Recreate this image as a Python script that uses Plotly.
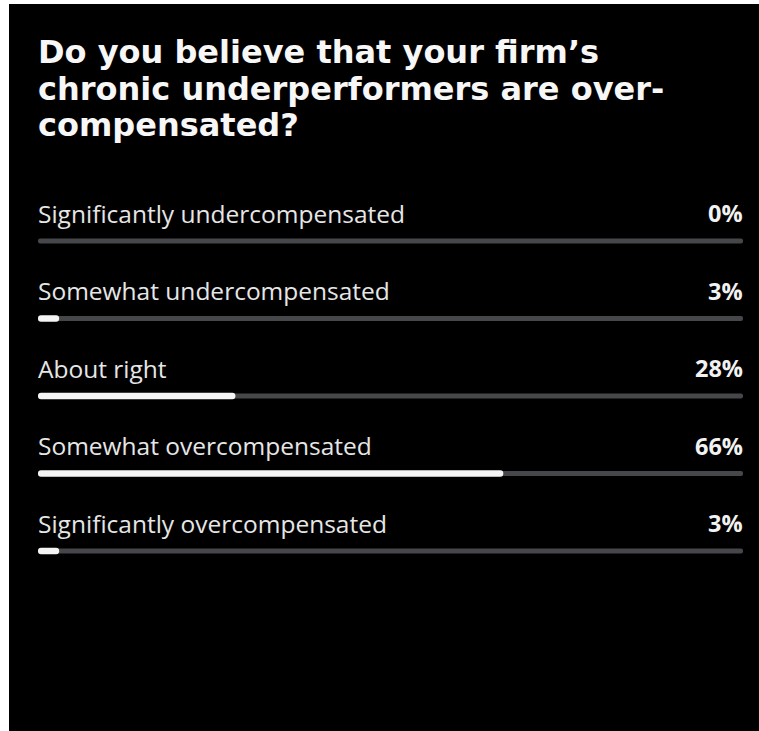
import plotly.graph_objects as go

# Poll question, answer options and share of responses (%)
title_lines = [
    "Do you believe that your firm’s",
    "chronic underperformers are over-",
    "compensated?",
]
options = [
    "Significantly undercompensated",
    "Somewhat undercompensated",
    "About right",
    "Somewhat overcompensated",
    "Significantly overcompensated",
]
shares = [0, 3, 28, 66, 3]
scale_max = 100

W, H = 759, 731
rows = list(range(len(options)))

# pixel geometry of the card
track_left, track_right = 38, 743
card_left, card_top = 9, 4
row_pitch = 77.5
first_row_px = 241

px_per_unit = (track_right - track_left) / scale_max
x_lo = -(track_left - card_left) / px_per_unit
x_hi = scale_max + (W - track_right) / px_per_unit
y_top = (card_top - first_row_px) / row_pitch
y_bot = (H - first_row_px) / row_pitch

fig = go.Figure()

# grey tracks spanning the full scale
fig.add_trace(go.Bar(
    x=[scale_max] * len(options), y=rows, orientation="h",
    width=5 / row_pitch, base=0,
    marker=dict(color="#46474b", cornerradius="50%", line=dict(width=0)),
    hoverinfo="skip", showlegend=False,
))
# white response bars
fig.add_trace(go.Bar(
    x=shares, y=rows, orientation="h",
    width=6.5 / row_pitch, base=0,
    marker=dict(color="#f4f4f4", cornerradius="50%", line=dict(width=0)),
    hoverinfo="skip", showlegend=False,
))

label_font = dict(family="Open Sans", size=24.5, color="#e6e6e6")
value_font = dict(family="Open Sans", size=23.5, color="#f2f2f2", weight="bold")

annotations = []
for r, name, v in zip(rows, options, shares):
    annotations.append(dict(
        x=0, y=r, xref="x", yref="y", text=name, showarrow=False,
        xanchor="left", yanchor="middle", yshift=28, xshift=-2, font=label_font,
    ))
    annotations.append(dict(
        x=scale_max, y=r, xref="x", yref="y", text=f"{v}%", showarrow=False,
        xanchor="right", yanchor="middle", yshift=28, xshift=2, font=value_font,
    ))

# question heading, one annotation per line for tight leading
title_font = dict(family="DejaVu Sans", size=32, color="#f7f7f7", weight="bold")
for k, line in enumerate(title_lines):
    annotations.append(dict(
        x=0, y=y_top, xref="x", yref="y", text=line, showarrow=False,
        xanchor="left", yanchor="middle", yshift=-(48 + 36.5 * k), xshift=-2,
        align="left", font=title_font,
    ))

fig.update_layout(
    width=W, height=H,
    margin=dict(l=card_left, r=0, t=card_top, b=0, pad=0),
    paper_bgcolor="white", plot_bgcolor="black",
    barmode="overlay",
    xaxis=dict(range=[x_lo, x_hi], visible=False, fixedrange=True),
    yaxis=dict(range=[y_bot, y_top], visible=False, fixedrange=True),
    annotations=annotations,
    showlegend=False,
)

fig.write_html("out.html", config={"displayModeBar": False, "staticPlot": True})
